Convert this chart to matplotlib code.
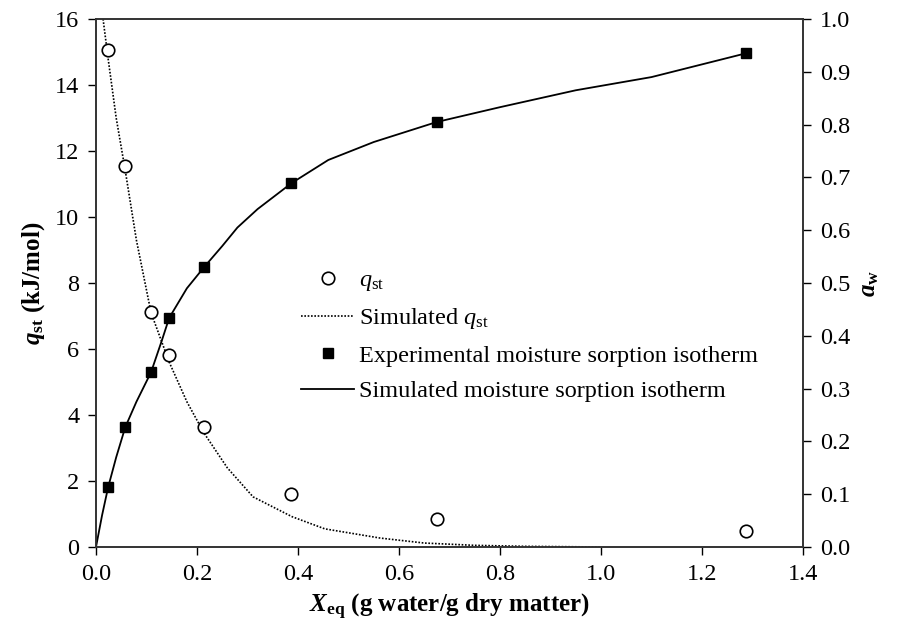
import matplotlib
matplotlib.use("Agg")
import matplotlib.pyplot as plt
from matplotlib.lines import Line2D

plt.rcParams['font.family'] = ['Liberation Serif', 'DejaVu Serif']
plt.rcParams['mathtext.fontset'] = 'custom'
plt.rcParams['mathtext.rm'] = 'Liberation Serif'
plt.rcParams['mathtext.it'] = 'Liberation Serif:italic'
plt.rcParams['mathtext.bf'] = 'Liberation Serif:bold'
plt.rcParams['mathtext.bfit'] = 'Liberation Serif:italic:bold'

# Experimental data
x_eq = [0.024, 0.058, 0.109, 0.145, 0.214, 0.387, 0.675, 1.287]
q_st = [15.05, 11.55, 7.12, 5.82, 3.63, 1.62, 0.85, 0.49]
a_w = [0.113, 0.227, 0.331, 0.434, 0.530, 0.689, 0.805, 0.935]

# Simulated q_st curve
sim_q_x = [0.014, 0.024, 0.04, 0.058, 0.08, 0.109, 0.145, 0.18, 0.214, 0.26, 0.311,
           0.388, 0.453, 0.563, 0.65, 0.75, 0.85, 1.0]
sim_q_y = [16.0, 14.8, 13.0, 11.4, 9.3, 7.1, 5.6, 4.4, 3.45, 2.4, 1.52,
           0.92, 0.55, 0.27, 0.12, 0.05, 0.02, 0.0]

# Simulated isotherm curve
sim_a_x = [0.0, 0.012, 0.024, 0.04, 0.058, 0.08, 0.109, 0.13, 0.145, 0.18, 0.214,
           0.25, 0.28, 0.32, 0.387, 0.46, 0.55, 0.675, 0.8, 0.95, 1.1, 1.287]
sim_a_y = [0.0, 0.06, 0.113, 0.17, 0.227, 0.275, 0.331, 0.39, 0.434, 0.49, 0.530,
           0.57, 0.605, 0.64, 0.689, 0.733, 0.767, 0.805, 0.833, 0.865, 0.89, 0.935]

x_ticks = [0.0, 0.2, 0.4, 0.6, 0.8, 1.0, 1.2, 1.4]
q_ticks = [0, 2, 4, 6, 8, 10, 12, 14, 16]
a_ticks = [0.0, 0.1, 0.2, 0.3, 0.4, 0.5, 0.6, 0.7, 0.8, 0.9, 1.0]

fig = plt.figure(figsize=(9.02, 6.29), dpi=100)
ax1 = fig.add_axes([96/902, 1-547/629, (803-96)/902, (547-19)/629])
ax2 = ax1.twinx()

ax1.plot(sim_q_x, sim_q_y, color='black', linestyle=(0, (1.0, 1.0)), linewidth=1.2, zorder=2)
ax1.plot(x_eq, q_st, linestyle='none', marker='o', markersize=9, markerfacecolor='white',
         markeredgecolor='black', markeredgewidth=1.2, zorder=3)
ax2.plot(sim_a_x, sim_a_y, color='black', linewidth=1.3, zorder=2)
ax2.plot(x_eq, a_w, linestyle='none', marker='s', markersize=7.5, color='black', zorder=3)

ax1.set_xlim(0, 1.4)
ax1.set_ylim(0, 16)
ax2.set_ylim(0, 1.0)
ax1.set_xticks(x_ticks)
ax1.set_xticklabels([f"{v:.1f}" for v in x_ticks])
ax1.set_yticks(q_ticks)
ax1.set_yticklabels([str(v) for v in q_ticks])
ax2.set_yticks(a_ticks)
ax2.set_yticklabels([f"{v:.1f}" for v in a_ticks])

for ax in (ax1, ax2):
    ax.tick_params(direction='out', length=6, width=1.0, labelsize=17.5, pad=6)
    for s in ax.spines.values():
        s.set_linewidth(1.2)
        s.set_color('#333333')

ax1.set_xlabel(r'$\mathbfit{X}_{\mathbf{eq}}$ (g water/g dry matter)', fontsize=18, fontweight='bold', labelpad=5)
ax1.set_ylabel(r'$\mathbfit{q}_{\mathbf{st}}$ (kJ/mol)', fontsize=18, fontweight='bold', labelpad=6)
ax2.set_ylabel(r'$\mathbfit{a}_{\mathbf{w}}$', fontsize=18, fontweight='bold', labelpad=6)

handles = [
    Line2D([], [], linestyle='none', marker='o', markersize=9, markerfacecolor='white',
           markeredgecolor='black', markeredgewidth=1.2),
    Line2D([], [], color='black', linestyle=(0, (1.0, 1.0)), linewidth=1.2),
    Line2D([], [], linestyle='none', marker='s', markersize=7.5, color='black'),
    Line2D([], [], color='black', linewidth=1.3),
]
labels = [r'$\mathit{q}_{\mathrm{st}}$', r'Simulated $\mathit{q}_{\mathrm{st}}$',
          'Experimental moisture sorption isotherm', 'Simulated moisture sorption isotherm']
fig.legend(handles, labels, loc='upper left', bbox_to_anchor=(301/902, 1-269/629),
           frameon=False, fontsize=17.5, handlelength=2.2, handletextpad=0.2,
           labelspacing=0.55, borderpad=0, borderaxespad=0)

fig.savefig('out.png', dpi=100)
